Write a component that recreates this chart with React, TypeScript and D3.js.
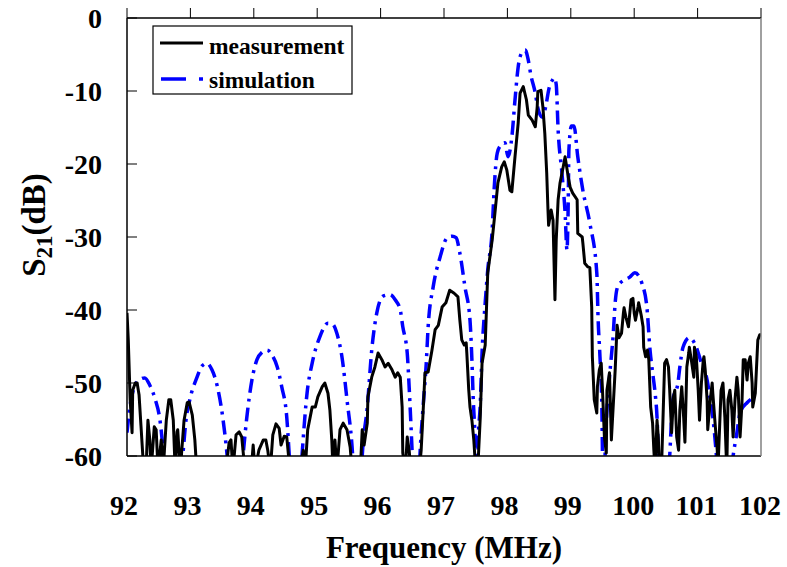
import React from "react";
import * as d3 from "d3";

const xTicks = [92, 93, 94, 95, 96, 97, 98, 99, 100, 101, 102];
const yTicks = [0, -10, -20, -30, -40, -50, -60];

const measFreq = [
  92.0, 92.02, 92.05, 92.08, 92.09, 92.13, 92.16, 92.19, 92.22, 92.25,
  92.3, 92.33, 92.36, 92.38, 92.43, 92.46, 92.49, 92.54, 92.57, 92.62,
  92.66, 92.69, 92.73, 92.76, 92.79, 92.8, 92.84, 92.9, 92.95, 92.98,
  93.03, 93.07, 93.1, 93.56, 93.61, 93.64, 93.67, 93.72, 93.77, 93.81,
  93.86, 93.96, 93.99, 94.02, 94.08, 94.15, 94.19, 94.22, 94.26, 94.3,
  94.35, 94.4, 94.43, 94.48, 94.52, 94.57, 94.73, 94.78, 94.81, 94.85,
  94.92, 94.97, 95.01, 95.08, 95.12, 95.17, 95.2, 95.23, 95.25, 95.28,
  95.31, 95.36, 95.41, 95.47, 95.52, 95.55, 95.68, 95.71, 95.74, 95.79,
  95.8, 95.86, 95.91, 95.96, 96.02, 96.07, 96.12, 96.18, 96.23, 96.27,
  96.31, 96.34, 96.35, 96.39, 96.42, 96.45, 96.48, 96.61, 96.64, 96.68,
  96.7, 96.75, 96.81, 96.86, 96.91, 96.97, 97.03, 97.09, 97.16, 97.22,
  97.25, 97.28, 97.32, 97.35, 97.36, 97.39, 97.41, 97.44, 97.47, 97.49,
  97.54, 97.57, 97.6, 97.65, 97.69, 97.76, 97.8, 97.85, 97.91, 97.95,
  97.99, 98.04, 98.07, 98.12, 98.17, 98.2, 98.25, 98.3, 98.33, 98.39,
  98.44, 98.47, 98.48, 98.53, 98.56, 98.59, 98.62, 98.64, 98.65, 98.69,
  98.72, 98.73, 98.75, 98.77, 98.8, 98.83, 98.88, 98.91, 98.96, 98.99,
  99.03, 99.1, 99.11, 99.18, 99.19, 99.22, 99.27, 99.3, 99.33, 99.34,
  99.37, 99.41, 99.42, 99.45, 99.48, 99.5, 99.53, 99.56, 99.57, 99.61,
  99.64, 99.7, 99.73, 99.76, 99.8, 99.83, 99.84, 99.87, 99.91, 99.92,
  99.95, 99.98, 100.0, 100.02, 100.06, 100.07, 100.11, 100.14, 100.15, 100.18,
  100.21, 100.23, 100.26, 100.29, 100.31, 100.33, 100.36, 100.38, 100.39, 100.43,
  100.48, 100.51, 100.54, 100.56, 100.59, 100.62, 100.64, 100.67, 100.7, 100.72,
  100.75, 100.78, 100.8, 100.83, 100.86, 100.87, 100.9, 100.94, 100.95, 100.98,
  101.01, 101.03, 101.06, 101.09, 101.1, 101.12, 101.15, 101.16, 101.2, 101.23,
  101.24, 101.28, 101.31, 101.32, 101.37, 101.4, 101.43, 101.46, 101.48, 101.51,
  101.54, 101.56, 101.59, 101.62, 101.64, 101.67, 101.7, 101.72, 101.75, 101.78,
  101.8, 101.83, 101.86, 101.87, 101.91, 101.94, 101.95, 101.98, 102.0,
];
const measDb = [
  -40.4, -44.1, -52.3, -56.8, -51.0, -50.0, -50.0, -51.6, -55.8, -60,
  -62, -55.1, -57.8, -62, -56.0, -56.4, -62, -57.8, -62, -55.1,
  -52.3, -52.3, -55.1, -62, -56.7, -56.4, -62, -55.1, -52.7, -52.6,
  -54.4, -57.8, -62, -62, -58.2, -57.8, -62, -57.1, -56.7, -57.4,
  -62, -62, -58.5, -62, -59.2, -57.8, -57.8, -59.2, -62, -57.1,
  -55.6, -56.2, -58.5, -57.3, -57.4, -62, -62, -59.2, -62, -56.4,
  -53.3, -53.3, -51.9, -50.5, -50.0, -51.4, -53.7, -57.8, -62, -57.8,
  -62, -56.4, -55.5, -56.4, -58.8, -62, -62, -56.4, -58.5, -55.5,
  -51.9, -49.2, -47.8, -45.9, -46.8, -47.8, -47.3, -48.2, -49.2, -48.6,
  -49.2, -53.3, -59.6, -62, -57.4, -59.2, -62, -62, -59.2, -52.3,
  -48.6, -48.5, -45.5, -42.7, -42.1, -39.6, -39.0, -37.3, -37.7, -38.2,
  -41.4, -44.1, -44.8, -44.5, -45.9, -50.9, -53.3, -55.1, -57.8, -60.5,
  -60.5, -55.1, -47.3, -44.8, -34.9, -30.4, -27.0, -22.6, -20.4, -19.7,
  -20.8, -23.6, -23.8, -19.0, -14.4, -10.3, -9.4, -11.2, -13.3, -14.0,
  -14.9, -12.2, -10.1, -9.9, -12.2, -15.8, -21.2, -26.3, -28.4, -26.3,
  -27.7, -31.4, -38.6, -30.4, -24.9, -22.6, -20.4, -19.0, -21.8, -23.2,
  -24.0, -24.9, -29.5, -30.0, -30.8, -33.6, -34.1, -34.2, -39.6, -46.4,
  -52.3, -54.1, -50.5, -48.2, -47.3, -51.0, -57.4, -59.6, -51.0, -48.6,
  -57.8, -48.2, -42.1, -43.8, -43.2, -40.4, -39.7, -41.0, -42.3, -41.4,
  -38.6, -38.4, -40.4, -41.4, -39.6, -39.0, -40.7, -42.3, -45.1, -46.4,
  -45.5, -46.8, -53.3, -55.5, -59.2, -62, -55.1, -57.4, -59.9, -62,
  -47.3, -46.8, -47.8, -51.0, -56.8, -51.9, -51.0, -57.4, -59.2, -53.7,
  -50.5, -54.7, -58.1, -47.8, -45.9, -45.1, -46.8, -49.2, -45.1, -46.4,
  -51.0, -55.1, -50.0, -46.8, -46.4, -48.2, -52.3, -56.4, -52.3, -50.0,
  -51.4, -56.0, -59.2, -62, -51.0, -50.0, -54.7, -62, -52.3, -51.0,
  -53.7, -57.4, -52.3, -49.2, -51.0, -57.4, -52.7, -46.8, -46.8, -49.6,
  -47.3, -46.4, -50.0, -53.3, -51.4, -45.9, -44.1, -43.4, -43.4,
];

const simFreq = [
  92.0, 92.05, 92.13, 92.21, 92.28, 92.36, 92.44, 92.52, 92.58, 92.74,
  92.88, 92.93, 92.99, 93.1, 93.18, 93.26, 93.34, 93.42, 93.51, 93.58,
  93.7, 93.83, 93.89, 93.97, 94.05, 94.13, 94.21, 94.29, 94.37, 94.44,
  94.52, 94.56, 94.66, 94.76, 94.84, 94.92, 95.04, 95.17, 95.25, 95.31,
  95.39, 95.47, 95.56, 95.64, 95.71, 95.79, 95.86, 95.94, 96.04, 96.15,
  96.23, 96.31, 96.35, 96.42, 96.45, 96.48, 96.5, 96.56, 96.62, 96.67,
  96.72, 96.75, 96.83, 96.94, 97.05, 97.13, 97.19, 97.25, 97.33, 97.41,
  97.44, 97.46, 97.49, 97.5, 97.52, 97.54, 97.57, 97.6, 97.65, 97.69,
  97.76, 97.79, 97.84, 97.9, 97.96, 98.01, 98.07, 98.12, 98.17, 98.23,
  98.28, 98.33, 98.37, 98.44, 98.48, 98.55, 98.61, 98.65, 98.71, 98.74,
  98.77, 98.8, 98.86, 98.91, 98.94, 98.96, 98.97, 99.01, 99.05, 99.11,
  99.19, 99.3, 99.41, 99.43, 99.46, 99.49, 99.5, 99.52, 99.54, 99.57,
  99.61, 99.67, 99.7, 99.74, 99.84, 99.93, 100.01, 100.09, 100.12, 100.2,
  100.25, 100.3, 100.33, 100.36, 100.38, 100.46, 100.56, 100.61, 100.69, 100.72,
  100.77, 100.87, 100.98, 101.06, 101.15, 101.2, 101.24, 101.29, 101.4, 101.56,
  101.62, 101.67, 101.78, 101.91,
];
const simDb = [
  -56.8, -53.0, -50.3, -49.5, -49.3, -50.3, -52.1, -55.1, -60, -75,
  -60, -55.1, -52.3, -49.3, -47.7, -47.3, -48.2, -50.3, -54.7, -60,
  -75, -60, -54.7, -49.6, -46.8, -45.8, -45.5, -46.2, -47.8, -50.5,
  -54.7, -60, -75, -60, -51.4, -47.3, -43.7, -41.8, -42.0, -43.2,
  -46.4, -52.3, -60, -75, -60, -53.3, -45.5, -40.4, -38.1, -37.9,
  -38.6, -40.0, -42.3, -45.9, -50.5, -56.0, -60, -75, -60, -53.3,
  -47.3, -42.3, -36.8, -32.7, -30.1, -29.9, -30.1, -32.2, -36.8, -41.4,
  -46.8, -51.9, -57.4, -60, -66, -57.8, -53.3, -45.9, -39.0, -34.5,
  -29.0, -23.6, -18.5, -17.4, -17.1, -19.0, -16.3, -11.2, -6.7, -4.7,
  -4.4, -5.8, -7.8, -10.3, -12.3, -13.6, -11.9, -9.9, -8.5, -8.2,
  -9.1, -15.3, -21.2, -26.7, -31.8, -24.9, -18.1, -14.8, -14.8, -19.0,
  -23.6, -28.1, -34.9, -41.0, -46.4, -53.3, -60, -66, -60, -53.7,
  -49.2, -43.2, -39.0, -36.8, -35.9, -35.5, -34.9, -35.6, -36.3, -39.6,
  -45.5, -49.2, -51.4, -54.7, -59.2, -75, -60, -52.3, -50.0, -47.8,
  -45.1, -43.8, -45.1, -47.3, -49.6, -52.3, -54.7, -59.2, -75, -60,
  -56.8, -54.1, -52.7, -51.9,
];

const W = 787;
const H = 567;
const X0 = 127;
const X1 = 761;
const Y0 = 18;
const Y1 = 456;
const FONT = "'Liberation Serif', 'Times New Roman', serif";

export default function App() {
  const x = d3.scaleLinear().domain([92, 102]).range([X0, X1]);
  const y = d3.scaleLinear().domain([-60, 0]).range([Y1, Y0]);

  const meas = measFreq.map((f, i) => [f, measDb[i]] as [number, number]);
  const sim = simFreq.map((f, i) => [f, simDb[i]] as [number, number]);

  const lineGen = d3
    .line<[number, number]>()
    .x((d) => x(d[0]))
    .y((d) => y(d[1]));
  const simGen = d3
    .line<[number, number]>()
    .x((d) => x(d[0]))
    .y((d) => y(d[1]))
    .curve(d3.curveMonotoneX);

  return (
    <svg
      width={W}
      height={H}
      style={{ position: "absolute", left: 0, top: 0, background: "#fff" }}
      fontFamily={FONT}
    >
      <defs>
        <clipPath id="plotClip">
          <rect x={X0} y={Y0 - 2} width={X1 - X0} height={Y1 - Y0 + 2} />
        </clipPath>
      </defs>
      <rect x={0} y={0} width={W} height={H} fill="#fff" />

      <g clipPath="url(#plotClip)">
        <path
          d={simGen(sim) || ""}
          fill="none"
          stroke="#0000ff"
          strokeWidth={3.5}
          strokeDasharray="14,6,3,6"
        />
        <path
          d={lineGen(meas) || ""}
          fill="none"
          stroke="#000"
          strokeWidth={3}
          strokeLinejoin="round"
        />
      </g>

      {/* frame */}
      <line x1={X0} x2={X1} y1={Y0} y2={Y0} stroke="#000" strokeWidth={1.5} />
      <line x1={X0} x2={X1} y1={Y1} y2={Y1} stroke="#000" strokeWidth={1.5} />
      <line x1={X0} x2={X0} y1={Y0} y2={Y1} stroke="#000" strokeWidth={1.5} />
      <line x1={X1} x2={X1} y1={Y0} y2={Y1} stroke="#808080" strokeWidth={1.5} />

      {xTicks.map((t) => (
        <g key={"xt" + t}>
          <line x1={x(t)} x2={x(t)} y1={Y0} y2={Y0 - 10} stroke="#000" strokeWidth={1} />
          <text
            x={x(t) - (t >= 100 ? 1 : 3)}
            y={515}
            textAnchor="middle"
            fontSize={28}
            fontWeight="bold"
          >
            {t}
          </text>
        </g>
      ))}

      {yTicks.map((t) => (
        <g key={"yt" + t}>
          <line x1={X0} x2={X0 + 10} y1={y(t)} y2={y(t)} stroke="#000" strokeWidth={1} />
          <text
            x={102}
            y={y(t)}
            dy="0.35em"
            textAnchor="end"
            fontSize={28}
            fontWeight="bold"
          >
            {t}
          </text>
        </g>
      ))}

      <text x={444} y={558} textAnchor="middle" fontSize={31} fontWeight="bold">
        Frequency (MHz)
      </text>
      <text
        transform="translate(45,225) rotate(-90)"
        textAnchor="middle"
        fontSize={33}
        fontWeight="bold"
      >
        S
        <tspan fontSize={23} dy={7}>
          21
        </tspan>
        <tspan dy={-7}>(dB)</tspan>
      </text>

      {/* legend */}
      <rect x={153} y={26} width={199} height={68} fill="#fff" stroke="#000" strokeWidth={1.2} />
      <line x1={160} x2={203} y1={43} y2={43} stroke="#000" strokeWidth={3} />
      <line
        x1={161}
        x2={204}
        y1={79}
        y2={79}
        stroke="#0000ff"
        strokeWidth={3.5}
        strokeDasharray="25,13,4,20"
      />
      <text x={209} y={54} fontSize={23.5} fontWeight="bold">
        measurement
      </text>
      <text x={209} y={88} fontSize={23.5} fontWeight="bold">
        simulation
      </text>
    </svg>
  );
}
